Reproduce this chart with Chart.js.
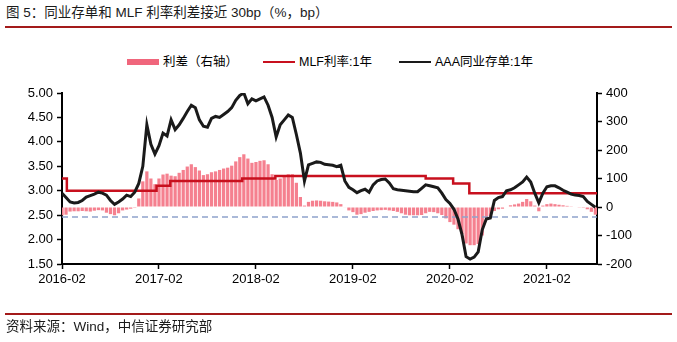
<!DOCTYPE html>
<html>
<head>
<meta charset="utf-8">
<script src="https://cdn.jsdelivr.net/npm/chart.js@4.4.1/dist/chart.umd.min.js"></script>
<style>
  html, body { margin: 0; padding: 0; background: #fff; }
  body {
    width: 677px; height: 342px; position: relative; overflow: hidden;
    font-family: "Liberation Sans", "Noto Sans CJK SC", sans-serif; color: #000;
  }
  #wrap { position: absolute; left: 0; top: 0; width: 677px; height: 342px; }
  .title { position: absolute; left: 6px; top: 5px; font-size: 13.5px; line-height: 16px; color: #1a1a1a; }
  .rule { position: absolute; left: 5px; width: 667px; height: 1.5px; background: #a31a1a; }
  .item { position: absolute; top: 54px; height: 16px; line-height: 16px; font-size: 12.5px; display: flex; align-items: center; white-space: nowrap; }
  .swatch { display: inline-block; width: 32px; margin-right: 4px; }
  .source { position: absolute; left: 6px; top: 319px; font-size: 13.5px; line-height: 16px; color: #1a1a1a; }
</style>
</head>
<body>
<div class="title">图 5：同业存单和 MLF 利率利差接近 30bp（%，bp）</div>
<div class="rule" style="top:26px"></div>

<div class="item" style="left:127px"><span class="swatch" style="height:6px;background:#f0667c"></span>利差（右轴）</div>
<div class="item" style="left:263px"><span class="swatch" style="height:2.5px;background:#c8101e"></span>MLF利率:1年</div>
<div class="item" style="left:399px"><span class="swatch" style="height:2.5px;background:#1a1a1a"></span>AAA同业存单:1年</div>

<div id="wrap"><canvas id="myChart"></canvas></div>

<div class="rule" style="top:313px"></div>
<div class="source">资料来源：Wind，中信证券研究部</div>

<script>
// x values are months since 2016-02, half-month steps
const tickMonths = [0, 12, 24, 36, 48, 60];
const tickLabels = ['2016-02', '2017-02', '2018-02', '2019-02', '2020-02', '2021-02'];
const lastMonth = 66.2;

// AAA 同业存单 1Y (%)
const ncd = [
  2.95, 2.86, 2.77, 2.75, 2.76, 2.80, 2.87, 2.90, 2.93, 2.97, 2.95, 2.91, 2.80, 2.72, 2.77, 2.83, 2.91, 2.88, 2.97, 3.15, 3.50, 4.35, 3.95, 3.75,
  3.92, 4.18, 4.12, 4.45, 4.25, 4.35, 4.48, 4.62, 4.75, 4.70, 4.45, 4.32, 4.30, 4.48, 4.52, 4.50, 4.56, 4.62, 4.70, 4.85, 4.95, 5.00, 4.78, 4.88,
  4.84, 4.88, 4.92, 4.75, 4.50, 4.10, 4.35, 4.45, 4.55, 4.50, 4.15, 3.77, 3.20, 3.53, 3.56, 3.59, 3.58, 3.54, 3.53, 3.52, 3.49, 3.52, 3.20, 3.07,
  3.02, 2.96, 3.00, 3.03, 2.97, 3.12, 3.20, 3.23, 3.24, 3.16, 3.04, 3.02, 3.01, 3.00, 2.99, 2.98, 2.98, 3.05, 3.12, 3.10, 3.08, 3.06, 2.95, 2.82,
  2.74, 2.62, 2.42, 2.10, 1.65, 1.60, 1.64, 1.75, 2.20, 2.42, 2.44, 2.80, 2.86, 2.88, 3.00, 3.02, 3.06, 3.12, 3.18, 3.28, 3.18, 2.95, 2.75, 2.95,
  3.08, 3.10, 3.10, 3.06, 3.01, 2.97, 2.93, 2.91, 2.90, 2.88, 2.78, 2.72, 2.66
];

// 利差 (bp, right axis)
const spread = [
  -29, -27, -16, -15, -15, -14, -15, -16, -13, -11, -12, -20, -25, -29, -22, -12, -9, -6, -3, 30, 90, 125, 100, 80,
  100, 114, 117, 110, 108, 120, 130, 142, 150, 140, 128, 112, 115, 122, 125, 130, 135, 138, 145, 160, 175, 185, 170, 155,
  158, 162, 164, 150, 115, 95, 100, 110, 115, 115, 85, 35, 5, 18, 22, 23, 22, 20, 19, 18, 16, 10, -2, -12,
  -18, -27, -25, -20, -17, -14, -12, -11, -10, -12, -14, -17, -22, -27, -29, -29, -29, -28, -22, -17, -18, -22, -28, -40,
  -53, -62, -78, -95, -128, -134, -134, -130, -100, -40, -32, -14, -8, -6, 0, 6, 9, 12, 18, 28, 20, 5, -15, 5,
  10, 12, 10, 8, 6, 4, 1, 0, -1, -3, -8, -17, -27
];

// MLF 1Y: month the rate took effect, and the rate (%)
const mlfMonths = [0, 0.6, 11.7, 13.4, 22.3, 26.4, 45.0, 48.4, 50.4, lastMonth];
const mlfRates = [3.25, 3.00, 3.10, 3.20, 3.25, 3.30, 3.25, 3.15, 2.95, 2.95];

// dashed reference (bp, right axis)
const refLevel = -35;

const months = ncd.map((_, i) => i / 2);

Chart.defaults.font.family = '"Liberation Sans", "Noto Sans CJK SC", sans-serif';
Chart.defaults.font.size = 13;
Chart.defaults.color = '#000';

const axisGrid = {
  display: true,
  drawOnChartArea: false,
  drawTicks: true,
  tickLength: 5,
  tickColor: '#000',
  tickWidth: 1.5,
};

const ctx = document.getElementById('myChart').getContext('2d');
new Chart(ctx, {
  type: 'line',
  data: {
    datasets: [
      {
        label: 'AAA同业存单:1年',
        data: months.map((m, i) => ({ x: m, y: ncd[i] })),
        yAxisID: 'y',
        borderColor: '#1a1a1a',
        borderWidth: 3,
        pointRadius: 0,
        tension: 0,
        order: 0,
      },
      {
        label: 'MLF利率:1年',
        data: mlfMonths.map((m, i) => ({ x: m, y: mlfRates[i] })),
        yAxisID: 'y',
        stepped: 'before',
        borderColor: '#c8101e',
        borderWidth: 2.5,
        pointRadius: 0,
        order: 1,
      },
      {
        label: 'ref',
        data: [{ x: 0, y: refLevel }, { x: lastMonth, y: refLevel }],
        yAxisID: 'y1',
        borderColor: '#8ea3cc',
        borderWidth: 1.5,
        borderDash: [6, 4],
        pointRadius: 0,
        order: 2,
      },
      {
        type: 'bar',
        label: '利差（右轴）',
        data: months.map((m, i) => ({ x: m, y: spread[i] })),
        yAxisID: 'y1',
        backgroundColor: '#f5808f',
        barPercentage: 0.8,
        categoryPercentage: 1.0,
        order: 3,
      },
    ],
  },
  options: {
    responsive: true,
    maintainAspectRatio: false,
    devicePixelRatio: 1,
    animation: false,
    layout: { padding: { top: 93, left: 0, right: 0, bottom: 0 } },
    plugins: {
      legend: { display: false },
      tooltip: { enabled: false },
    },
    scales: {
      x: {
        type: 'linear',
        min: 0,
        max: lastMonth,
        offset: false,
        grid: { ...axisGrid, offset: false },
        border: { color: '#000', width: 2 },
        ticks: {
          padding: 3,
          callback: (v) => tickLabels[tickMonths.indexOf(v)],
        },
        afterBuildTicks: (axis) => {
          axis.ticks = tickMonths.map((v) => ({ value: v }));
        },
        afterFit: (axis) => { axis.height = 78; },
      },
      y: {
        type: 'linear',
        position: 'left',
        min: 1.5,
        max: 5.0,
        grid: axisGrid,
        border: { color: '#000', width: 2 },
        ticks: {
          stepSize: 0.5,
          padding: 4,
          callback: (v) => v.toFixed(2),
        },
        afterFit: (axis) => { axis.width = 62; },
      },
      y1: {
        type: 'linear',
        position: 'right',
        min: -200,
        max: 400,
        grid: axisGrid,
        border: { color: '#000', width: 2 },
        ticks: {
          stepSize: 100,
          padding: 4,
        },
        afterFit: (axis) => { axis.width = 80; },
      },
    },
  },
});
</script>
</body>
</html>
